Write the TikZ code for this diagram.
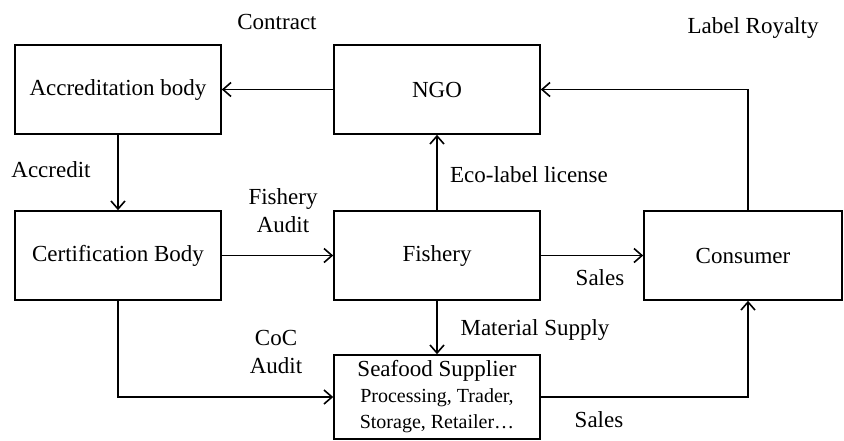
\documentclass[tikz,border=0pt]{standalone}
\usepackage{fontspec}
\setmainfont{Liberation Serif}
\usetikzlibrary{arrows.meta}

\begin{document}
\begin{tikzpicture}[x=0.5pt, y=-0.5pt, line width=0.8pt,
    >={Straight Barb[length=4pt,width=7pt]},
    box/.style = {shape=rectangle, draw, align=center, minimum width=103pt,
      minimum height=44.5pt, font=\fontsize{11.5}{13}\selectfont},
    lbl/.style = {align=center, font=\fontsize{11.5}{14}\selectfont}]
    \useasboundingbox (0,0) rectangle (844,440);
    % boxes
    \node[box] (accred) at (118,89.5) {Accreditation body};
    \node[box] (ngo) at (437,89.5) {NGO};
    \node[box] (cert) at (118,255.5) {Certification Body};
    \node[box] (fishery) at (437,255.5) {Fishery};
    \node[box, minimum width=99pt] (consumer) at (743,255.5) {Consumer};
    \node[box, minimum height=42pt, inner sep=1pt] (supplier) at (437,397)
      {Seafood Supplier\\ {\fontsize{10}{13.5}\selectfont Processing, Trader,}\\
       {\fontsize{10}{13.5}\selectfont Storage, Retailer…}};
    % flows
    \draw[->] (ngo) -- (accred);
    \draw[->] (accred) -- (cert);
    \draw[->] (cert) -- (fishery);
    \draw[->] (fishery) -- (ngo);
    \draw[->] (fishery) -- (consumer);
    \draw[->] ([xshift=2.5pt]consumer.north) |- (ngo.east);
    \draw[->] (fishery) -- (supplier);
    \draw[->] (cert.south) |- (supplier.west);
    \draw[->] (supplier.east) -| ([xshift=2.5pt]consumer.south);
    % labels
    \node[lbl] (contract) at (277,22) {Contract};
    \node[lbl] (royalty) at (753,28) {Label Royalty};
    \node[lbl] (accredit) at (51,170) {Accredit};
    \node[lbl] (ecolabel) at (529,175) {Eco-label license};
    \node[lbl] (fishaudit) at (283,211) {Fishery\\Audit};
    \node[lbl] (cocaudit) at (276,352) {CoC\\Audit};
    \node[lbl] (sales1) at (600,278) {Sales};
    \node[lbl] (matsupply) at (535,330) {Material Supply};
    \node[lbl] (sales2) at (599,420) {Sales};
\end{tikzpicture}
\end{document}
